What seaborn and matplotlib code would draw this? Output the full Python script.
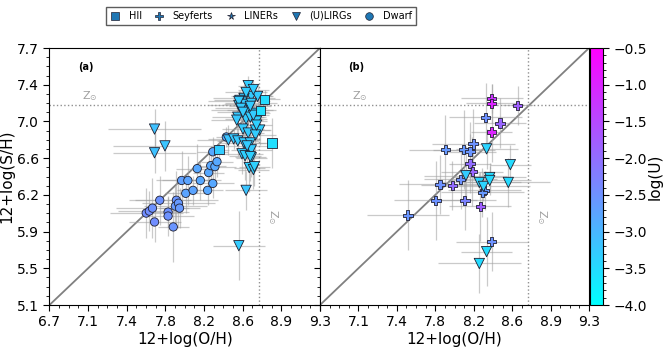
import numpy as np
import pandas as pd
import matplotlib
matplotlib.use("Agg")
import matplotlib.pyplot as plt
import seaborn as sns
from matplotlib.lines import Line2D
from matplotlib.ticker import AutoMinorLocator, FixedLocator
from matplotlib.colors import Normalize
from matplotlib.cm import ScalarMappable

# ---- data ----
# dwarf galaxies (panel a)
dwarf_oh = [7.63, 7.66, 7.69, 7.71, 7.76, 7.84, 7.84, 7.89, 7.92, 7.91, 7.94, 7.95, 7.97,
            8.03, 8.01, 8.08, 8.12, 8.15, 8.22, 8.23, 8.27, 8.25, 8.29, 8.31, 8.27, 8.40]
dwarf_sh = [6.03, 6.05, 6.08, 5.94, 6.16, 6.04, 6.00, 5.89, 6.16, 6.10, 6.13, 6.08, 6.36,
            6.36, 6.23, 6.26, 6.48, 6.36, 6.26, 6.44, 6.33, 6.51, 6.50, 6.55, 6.65, 6.80]
dwarf_xerr = [0.35, 0.30, 0.35, 0.25, 0.30, 0.20, 0.25, 0.15, 0.40, 0.30, 0.35, 0.20, 0.25,
              0.25, 0.20, 0.15, 0.20, 0.20, 0.15, 0.15, 0.20, 0.15, 0.20, 0.15, 0.15, 0.10]
dwarf_yerr = [0.25, 0.20, 0.30, 0.20, 0.25, 0.15, 0.20, 0.35, 0.30, 0.20, 0.25, 0.20, 0.30,
              0.25, 0.20, 0.15, 0.25, 0.20, 0.15, 0.20, 0.15, 0.20, 0.15, 0.15, 0.15, 0.10]
dwarf_logu = [-2.45, -2.45, -2.5, -2.45, -2.5, -2.5, -2.5, -2.55, -2.55, -2.6, -2.6, -2.6, -2.7,
              -2.75, -2.75, -2.75, -2.8, -2.8, -2.8, -2.8, -2.8, -2.8, -2.8, -2.8, -2.8, -2.85]

# HII regions (panel a)
hii_oh = [8.33, 8.84, 8.73, 8.77]
hii_sh = [6.67, 6.74, 7.07, 7.18]
hii_xerr = [0.10, 0.05, 0.15, 0.15]
hii_yerr = [0.10, 0.25, 0.10, 0.10]
hii_logu = [-3.3, -3.55, -3.55, -3.5]

# (U)LIRGs (panel a)
lirg_oh = [7.71, 7.71, 7.81, 8.52, 8.59, 8.61,
           8.64, 8.70, 8.57, 8.53, 8.52, 8.58, 8.64, 8.61, 8.55, 8.67, 8.51, 8.59, 8.63, 8.69,
           8.50, 8.56, 8.61, 8.68, 8.72, 8.68, 8.42, 8.47, 8.51, 8.57, 8.63, 8.55, 8.58, 8.64,
           8.64, 8.62, 8.66, 8.52, 8.54, 8.66, 8.60, 8.63, 8.67, 8.59, 8.66, 8.56, 8.63, 8.69]
lirg_sh = [6.88, 6.64, 6.71, 5.70, 6.26, 7.32,
           7.21, 7.21, 7.19, 7.17, 7.12, 7.13, 7.14, 7.07, 7.07, 7.04, 7.00, 6.98, 7.00, 6.96,
           6.97, 6.88, 6.84, 6.87, 6.87, 6.82, 6.77, 6.78, 6.76, 6.74, 6.74, 6.63, 6.61, 6.59,
           6.67, 6.49, 6.47, 7.16, 7.09, 7.02, 6.71, 6.60, 6.50, 7.25, 7.28, 7.05, 7.11, 6.92]
lirg_xerr = [0.45, 0.40, 0.50, 0.25, 0.20, 0.10,
             0.20, 0.15, 0.30, 0.25, 0.30, 0.20, 0.25, 0.20, 0.30, 0.15, 0.25, 0.20, 0.15, 0.10,
             0.25, 0.20, 0.15, 0.15, 0.10, 0.20, 0.30, 0.25, 0.20, 0.25, 0.15, 0.20, 0.15, 0.15,
             0.20, 0.15, 0.15, 0.30, 0.25, 0.15, 0.20, 0.15, 0.15, 0.20, 0.15, 0.25, 0.20, 0.15]
lirg_yerr = [0.20, 0.20, 0.25, 0.35, 0.20, 0.10,
             0.10, 0.10, 0.15, 0.10, 0.15, 0.10, 0.10, 0.15, 0.10, 0.15, 0.10, 0.15, 0.10, 0.10,
             0.15, 0.20, 0.15, 0.10, 0.15, 0.20, 0.15, 0.10, 0.15, 0.20, 0.15, 0.20, 0.25, 0.20,
             0.15, 0.25, 0.20, 0.10, 0.15, 0.10, 0.20, 0.25, 0.20, 0.10, 0.10, 0.15, 0.10, 0.15]
lirg_logu = [-3.15, -3.15, -3.2, -3.3, -3.2, -3.3,
             -3.3, -3.3, -3.25, -3.3, -3.3, -3.25, -3.3, -3.3, -3.25, -3.3, -3.25, -3.3, -3.3, -3.35,
             -3.25, -3.3, -3.3, -3.35, -3.35, -3.3, -3.2, -3.25, -3.25, -3.3, -3.3, -3.3, -3.35, -3.3,
             -3.3, -3.35, -3.35, -3.3, -3.3, -3.3, -3.3, -3.35, -3.35, -3.3, -3.3, -3.3, -3.3, -3.35]

# Seyferts (panel b)
sey_oh = [8.36, 8.36, 8.61, 8.30, 8.44, 8.36, 8.18, 7.91, 8.09, 8.15, 8.15, 8.17, 8.06,
          7.86, 7.98, 8.29, 8.27, 7.82, 8.10, 8.25, 7.55, 8.36]
sey_sh = [7.19, 7.14, 7.12, 7.00, 6.94, 6.85, 6.73, 6.67, 6.67, 6.65, 6.53, 6.45, 6.37,
          6.32, 6.31, 6.26, 6.24, 6.16, 6.16, 6.10, 6.01, 5.74]
sey_xerr = [0.30, 0.25, 0.15, 0.35, 0.25, 0.20, 0.40, 0.35, 0.30, 0.25, 0.20, 0.30, 0.35,
            0.40, 0.30, 0.35, 0.40, 0.40, 0.30, 0.30, 0.40, 0.35]
sey_yerr = [0.15, 0.20, 0.20, 0.35, 0.25, 0.30, 0.35, 0.35, 0.40, 0.30, 0.30, 0.35, 0.30,
            0.30, 0.25, 0.20, 0.25, 0.40, 0.30, 0.35, 0.35, 0.30]
sey_logu = [-1.2, -1.0, -1.8, -2.5, -1.9, -1.0, -2.5, -2.6, -2.6, -2.55, -2.0, -1.9, -2.5,
            -2.5, -2.0, -2.6, -2.6, -2.5, -2.3, -1.8, -2.55, -2.5]

# (U)LIRGs (panel b)
lirg2_oh = [8.31, 8.11, 8.54, 8.52, 8.24, 8.28, 8.34, 8.34, 8.31, 8.24]
lirg2_sh = [6.68, 6.41, 6.52, 6.34, 6.34, 6.30, 6.39, 6.36, 5.64, 5.52]
lirg2_xerr = [0.30, 0.40, 0.20, 0.40, 0.40, 0.45, 0.35, 0.40, 0.25, 0.40]
lirg2_yerr = [0.20, 0.30, 0.20, 0.25, 0.10, 0.15, 0.15, 0.15, 0.35, 0.30]
lirg2_logu = [-3.4, -3.3, -3.5, -3.5, -3.4, -3.4, -3.5, -3.5, -3.5, -3.5]

xticks = np.linspace(6.7, 9.3, 8)
yticks = np.linspace(5.1, 7.7, 8)
xlabels = ["6.7", "7.1", "7.4", "7.8", "8.2", "8.6", "8.9", "9.3"]
ylabels = ["5.1", "5.5", "5.9", "6.2", "6.6", "7.0", "7.4", "7.7"]
sun_oh, sun_sh = 8.71, 7.12

cmap = "cool"
norm = (-4.0, -0.5)
errcol = "#a0a0a0"
edge = "#202030"


def panel(ax, groups, tag):
    ax.plot([6.7, 9.3], [5.1, 7.7], color="#808080", lw=1.3, zorder=1)
    ax.axhline(sun_sh, color="#909090", ls=":", lw=1.0, zorder=1)
    ax.axvline(sun_oh, color="#909090", ls=":", lw=1.0, zorder=1)
    for x, y, xe, ye, u, mk, s in groups:
        ax.errorbar(x, y, xerr=xe, yerr=ye, fmt="none", ecolor=errcol,
                    elinewidth=0.9, alpha=0.55, zorder=2)
        df = pd.DataFrame({"oh": x, "sh": y, "logu": u})
        sns.scatterplot(data=df, x="oh", y="sh", hue="logu", palette=cmap, hue_norm=norm,
                        marker=mk, s=s, edgecolor=edge, linewidth=0.6, legend=False,
                        ax=ax, zorder=3)
    ax.text(0.105, 0.915, tag, transform=ax.transAxes, fontsize=7, fontweight="bold")
    ax.text(0.12, 0.80, r"Z$_{\odot}$", transform=ax.transAxes, fontsize=8, color="#a0a0a0")
    ax.text(0.80, 0.33, r"Z$_{\odot}$", transform=ax.transAxes, fontsize=8, color="#a0a0a0",
            rotation=270)
    ax.set_xlim(6.7, 9.3)
    ax.set_ylim(5.1, 7.7)
    ax.xaxis.set_major_locator(FixedLocator(xticks))
    ax.yaxis.set_major_locator(FixedLocator(yticks))
    ax.xaxis.set_minor_locator(AutoMinorLocator(4))
    ax.yaxis.set_minor_locator(AutoMinorLocator(4))
    ax.tick_params(which="major", length=4, width=0.8, labelsize=10)
    ax.tick_params(which="minor", length=2, width=0.6)
    ax.set_xlabel("12+log(O/H)", fontsize=11, labelpad=2)
    ax.set_ylabel("")


fig = plt.figure(figsize=(6.64, 3.52), dpi=100)
ax1 = fig.add_axes([0.0745, 0.1335, 0.4074, 0.7301])
ax2 = fig.add_axes([0.4819, 0.1335, 0.4052, 0.7301])
cax = fig.add_axes([0.8886, 0.1335, 0.019, 0.7301])

panel(ax1, [(dwarf_oh, dwarf_sh, dwarf_xerr, dwarf_yerr, dwarf_logu, "o", 36),
            (lirg_oh, lirg_sh, lirg_xerr, lirg_yerr, lirg_logu, "v", 55),
            (hii_oh, hii_sh, hii_xerr, hii_yerr, hii_logu, "s", 45)], "(a)")
panel(ax2, [(sey_oh, sey_sh, sey_xerr, sey_yerr, sey_logu, "P", 45),
            (lirg2_oh, lirg2_sh, lirg2_xerr, lirg2_yerr, lirg2_logu, "v", 55)], "(b)")

ax1.set_xticklabels(xlabels)
ax1.set_yticklabels(ylabels)
ax1.set_ylabel("12+log(S/H)", fontsize=11, labelpad=2)
ax2.set_xticklabels([""] + xlabels[1:])
ax2.set_yticklabels([])

sm = ScalarMappable(norm=Normalize(*norm), cmap=cmap)
cb = fig.colorbar(sm, cax=cax)
cb.set_ticks(np.arange(-4.0, -0.49, 0.5))
cb.ax.yaxis.set_minor_locator(AutoMinorLocator(5))
cb.ax.tick_params(which="major", length=4, labelsize=10)
cb.ax.tick_params(which="minor", length=2)
cb.set_label("log(U)", fontsize=11, labelpad=1)

handles = [Line2D([], [], ls="none", marker=m, color="#1f77b4", markeredgecolor=edge,
                  markeredgewidth=0.5, markersize=5.5, label=l)
           for m, l in [("s", "HII"), ("P", "Seyferts"), ("*", "LINERs"),
                        ("v", "(U)LIRGs"), ("o", "Dwarf")]]
fig.legend(handles=handles, loc="upper center", bbox_to_anchor=(0.393, 0.995), ncol=5,
           fontsize=7, frameon=True, edgecolor="#333333", fancybox=False,
           handlelength=1.0, handletextpad=0.9, columnspacing=1.3, borderpad=0.45)

fig.savefig("out.png", dpi=100)
